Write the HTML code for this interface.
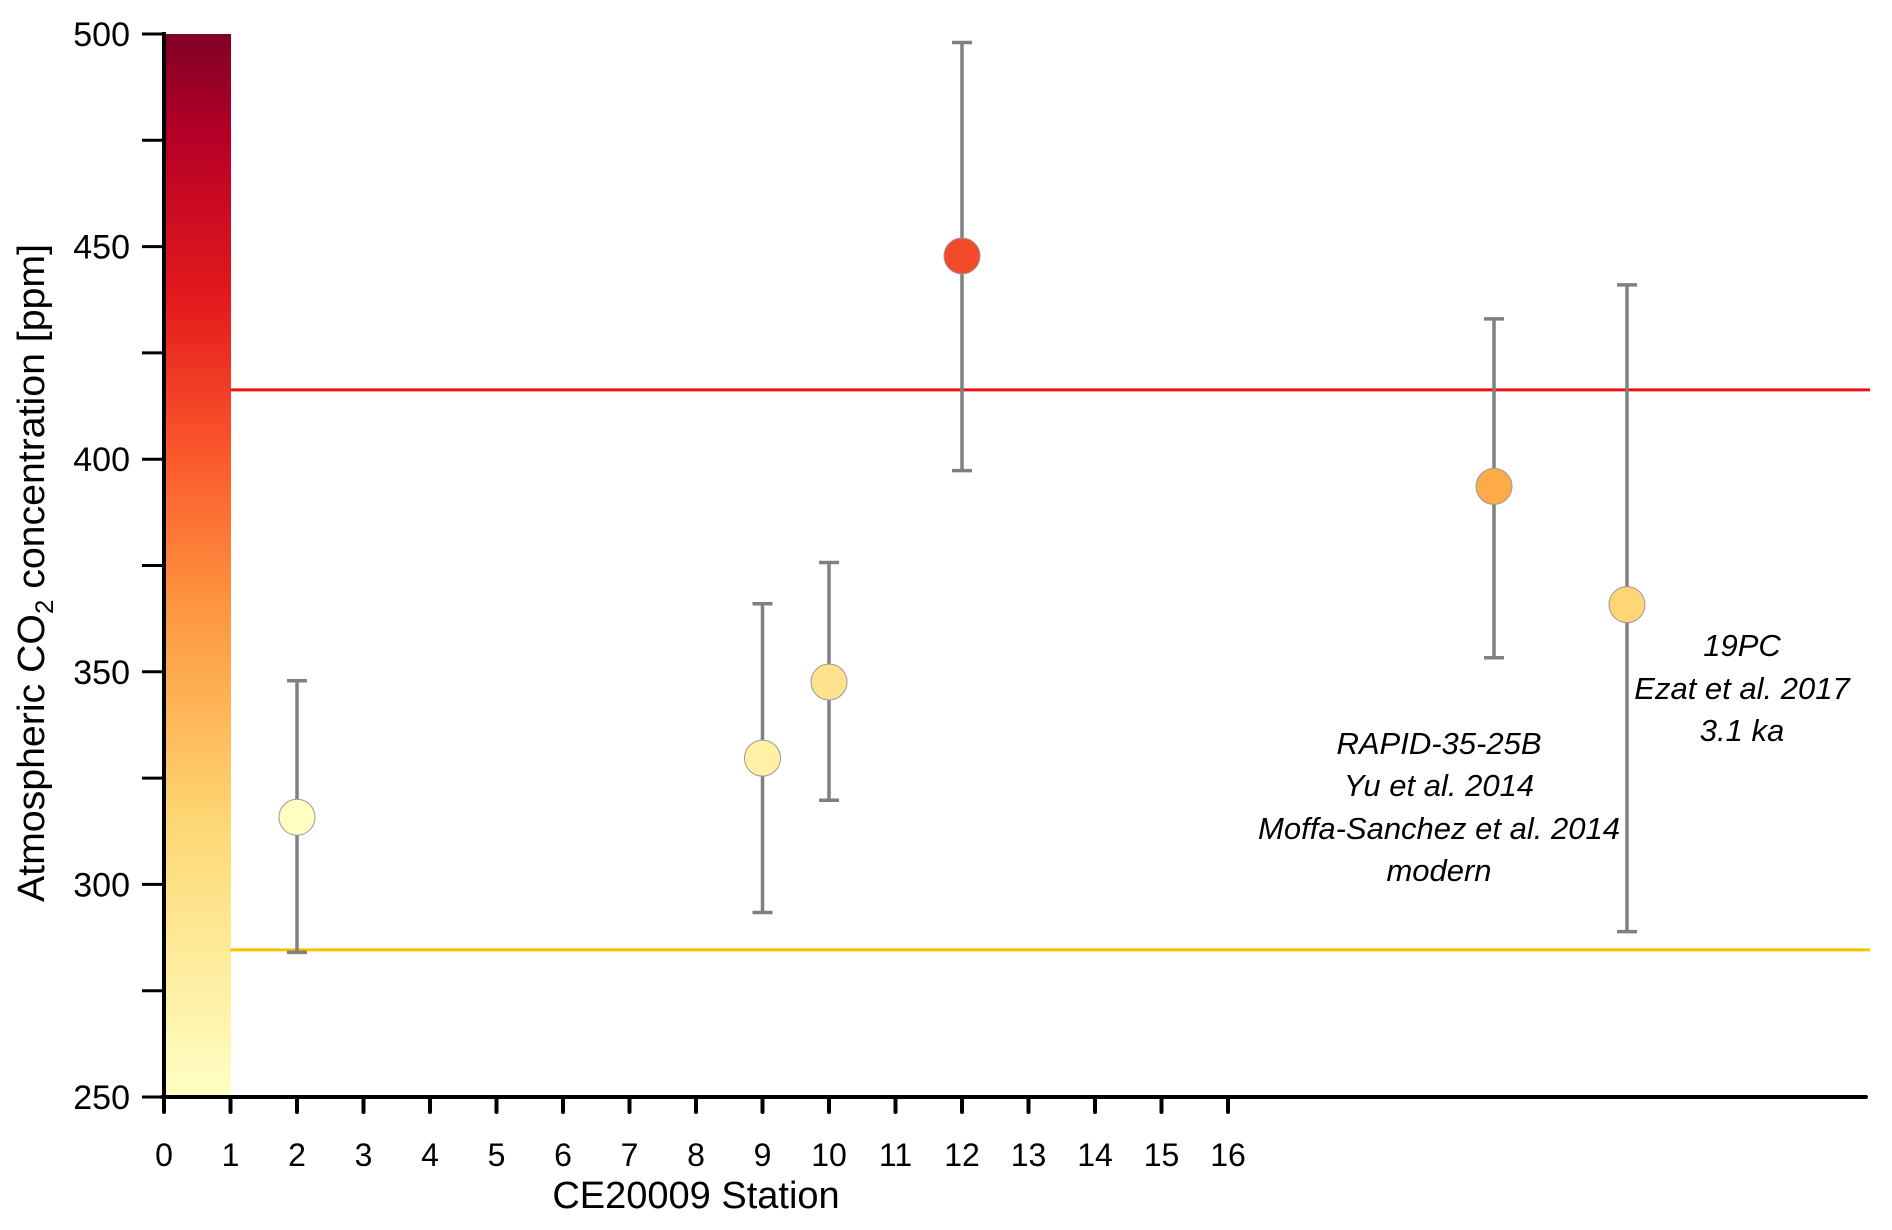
<!DOCTYPE html>
<html><head><meta charset="utf-8"><style>
body{margin:0;background:#fff}
svg{display:block;font-family:"Liberation Sans",sans-serif}
</style></head><body>
<svg id="chart" width="1892" height="1230">
<defs><linearGradient id="cb" x1="0" y1="1" x2="0" y2="0">
<stop offset="0" stop-color="#ffffc4"/><stop offset="0.25" stop-color="#fed976"/><stop offset="0.45" stop-color="#fd9a40"/><stop offset="0.6" stop-color="#fc5a2d"/><stop offset="0.75" stop-color="#e31a1c"/><stop offset="0.9" stop-color="#b80026"/><stop offset="1" stop-color="#800026"/></linearGradient></defs>
<rect x="164" y="34" width="67" height="1063" fill="url(#cb)"/>
<g id="g"></g>
<text x="44" y="573" transform="rotate(-90 44 573)" text-anchor="middle" font-size="38" textLength="658" lengthAdjust="spacingAndGlyphs">Atmospheric CO<tspan font-size="25" dy="9">2</tspan><tspan dy="-9"> concentration [ppm]</tspan></text>
<text x="696" y="1208" text-anchor="middle" font-size="38">CE20009 Station</text>
<g font-style="italic" font-size="31" text-anchor="middle">
<text x="1439" y="754">RAPID-35-25B</text><text x="1439" y="796">Yu et al. 2014</text><text x="1439" y="839">Moffa-Sanchez et al. 2014</text><text x="1439" y="881">modern</text></g>
<g font-style="italic" font-size="31" text-anchor="middle">
<text x="1742" y="656">19PC</text><text x="1742" y="699">Ezat et al. 2017</text><text x="1742" y="741">3.1 ka</text></g>
</svg>
<script>
const stations=[2,9,10,12,20,22];
const values=[315.8,329.7,347.6,447.8,393.6,365.8];
const errHigh=[347.9,366,375.7,498,433,441];
const errLow=[284,293.4,319.8,397.3,353.3,288.9];
const colors=["#ffffc2","#fff0a6","#fee38e","#f34a2a","#fdaa48","#fed675"];
const yTicks=[250,300,350,400,450,500];
const xTicks=[0,1,2,3,4,5,6,7,8,9,10,11,12,13,14,15,16];
const refLines=[416.3,284.6];
const refColors=["#ee1111","#f5c400"];
const NS="http://www.w3.org/2000/svg";
const g=document.getElementById('g');
const X=v=>164+v*66.5, Y=v=>1097-(v-250)*(1063/250);
function mk(t,a){const e=document.createElementNS(NS,t);for(const k in a)e.setAttribute(k,a[k]);g.appendChild(e);return e;}
refLines.forEach((v,i)=>{const e=mk('line',{x1:X(1),x2:1870,y1:Y(v),y2:Y(v),stroke:refColors[i],'stroke-width':3});

});
let ax=mk('line',{x1:164,x2:164,y1:32,y2:1099,stroke:'#000','stroke-width':4});


ax=mk('line',{x1:162,x2:1866,y1:1097,y2:1097,stroke:'#000','stroke-width':4,'stroke-linecap':'round'});


for(let v=250;v<=500;v+=25){mk('line',{x1:142,x2:164,y1:Y(v),y2:Y(v),stroke:'#000','stroke-width':3});}
yTicks.forEach(v=>{const t=mk('text',{x:130,y:Y(v)+12,'text-anchor':'end','font-size':34});t.textContent=v;

});
xTicks.forEach(v=>{mk('line',{x1:X(v),x2:X(v),y1:1097,y2:1112,stroke:'#000','stroke-width':4,'stroke-linecap':'round'});
const t=mk('text',{x:X(v),y:1166,'text-anchor':'middle','font-size':32});t.textContent=v;

});
stations.forEach((s,i)=>{const x=X(s);
const e=mk('path',{d:`M${x-10},${Y(errHigh[i])}H${x+10}M${x},${Y(errHigh[i])}V${Y(errLow[i])}M${x-10},${Y(errLow[i])}H${x+10}`,stroke:'#808080','stroke-width':3.5,fill:'none'});


const c=mk('circle',{cx:x,cy:Y(values[i]),r:18,fill:colors[i],stroke:'#999','stroke-width':1});

});
</script>
</body></html>
